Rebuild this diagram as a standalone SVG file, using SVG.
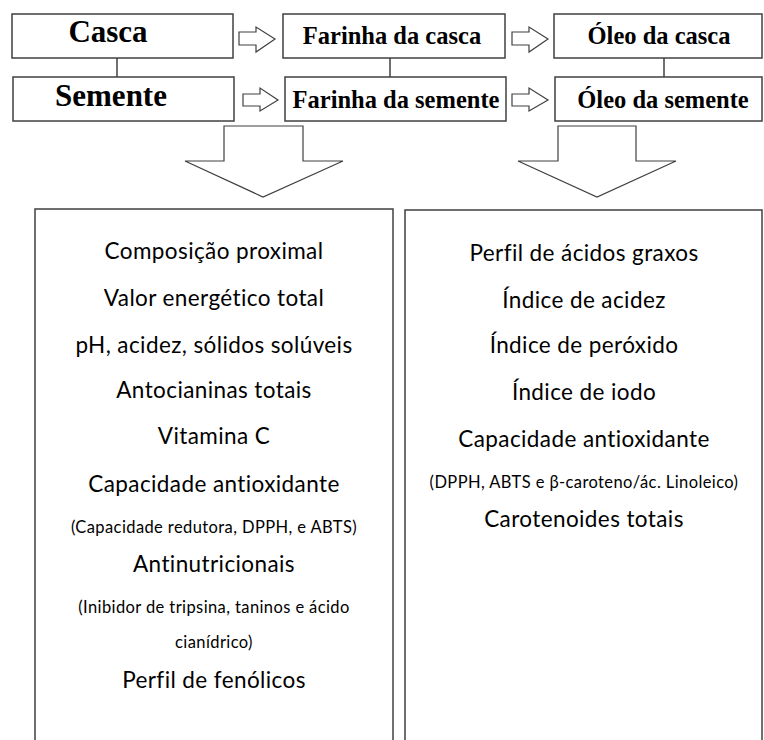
<svg xmlns="http://www.w3.org/2000/svg" width="764" height="740" viewBox="0 0 764 740">
<style>
.box{fill:#fff;stroke:#404040;stroke-width:1.5}
.arr{fill:#fff;stroke:#404040;stroke-width:1.2;stroke-linejoin:miter}
.ln{stroke:#404040;stroke-width:1.5;fill:none}
.h{font-family:"Liberation Serif","Times New Roman",serif;font-weight:bold;fill:#000;text-anchor:middle}
.t{font-family:Lato,"Open Sans",sans-serif;fill:#000;text-anchor:middle;font-size:22.5px;letter-spacing:0.4px}
.s{font-family:Lato,"Open Sans",sans-serif;fill:#000;text-anchor:middle;font-size:16.5px;letter-spacing:0.4px}
</style>
<rect width="764" height="740" fill="#fff"/>
<g id="connectors">
<line class="ln" x1="117" y1="58" x2="117" y2="77"/>
<line class="ln" x1="390" y1="58" x2="390" y2="77"/>
<line class="ln" x1="664" y1="58" x2="664" y2="77"/>
<polygon class="arr" points="239,32 256,32 256,27 275,39 256,52 256,45 239,45"/>
<polygon class="arr" points="243,94 260,94 260,88 278,100 260,111 260,106 243,106"/>
<polygon class="arr" points="512,32 529,32 529,27 548,39 529,52 529,45 512,45"/>
<polygon class="arr" points="512,94 529,94 529,88 548,100 529,111 529,106 512,106"/>
<polygon class="arr" points="224,126 303,126 303,161 343,161 263,197 185,161 224,161"/>
<polygon class="arr" points="558,126 636,126 636,161 676,161 597,197 518,161 558,161"/>
</g>
<g id="casca"><rect class="box" x="12" y="14" width="221" height="44"/><text class="h" x="108" y="42" font-size="31">Casca</text></g>
<g id="semente"><rect class="box" x="13" y="77" width="221" height="44"/><text class="h" x="111" y="106" font-size="31">Semente</text></g>
<g id="farinha-casca"><rect class="box" x="283" y="14" width="222" height="44"/><text class="h" x="392" y="44" font-size="24.5">Farinha da casca</text></g>
<g id="farinha-semente"><rect class="box" x="285" y="77" width="221" height="44"/><text class="h" x="396" y="108" font-size="24.5">Farinha da semente</text></g>
<g id="oleo-casca"><rect class="box" x="554" y="14" width="208" height="44"/><text class="h" x="659" y="44" font-size="24.5">Óleo da casca</text></g>
<g id="oleo-semente"><rect class="box" x="555" y="77" width="207" height="44"/><text class="h" x="663" y="108" font-size="24.5">Óleo da semente</text></g>
<g id="farinha-analises">
<rect class="box" x="35" y="209" width="358" height="540"/>
<text class="t" x="214" y="259">Composição proximal</text>
<text class="t" x="214" y="306">Valor energético total</text>
<text class="t" x="214" y="353">pH, acidez, sólidos solúveis</text>
<text class="t" x="214" y="398">Antocianinas totais</text>
<text class="t" x="214" y="444">Vitamina C</text>
<text class="t" x="214" y="492">Capacidade antioxidante</text>
<text class="s" x="214" y="533">(Capacidade redutora, DPPH, e ABTS)</text>
<text class="t" x="214" y="572">Antinutricionais</text>
<text class="s" x="214" y="613">(Inibidor de tripsina, taninos e ácido</text>
<text class="s" x="214" y="648">cianídrico)</text>
<text class="t" x="214" y="688">Perfil de fenólicos</text>
</g>
<g id="oleo-analises">
<rect class="box" x="405" y="210" width="357" height="540"/>
<text class="t" x="584" y="261">Perfil de ácidos graxos</text>
<text class="t" x="584" y="308">Índice de acidez</text>
<text class="t" x="584" y="353">Índice de peróxido</text>
<text class="t" x="584" y="400">Índice de iodo</text>
<text class="t" x="584" y="447">Capacidade antioxidante</text>
<text class="s" x="584" y="488">(DPPH, ABTS e β-caroteno/ác. Linoleico)</text>
<text class="t" x="584" y="527">Carotenoides totais</text>
</g>
</svg>
